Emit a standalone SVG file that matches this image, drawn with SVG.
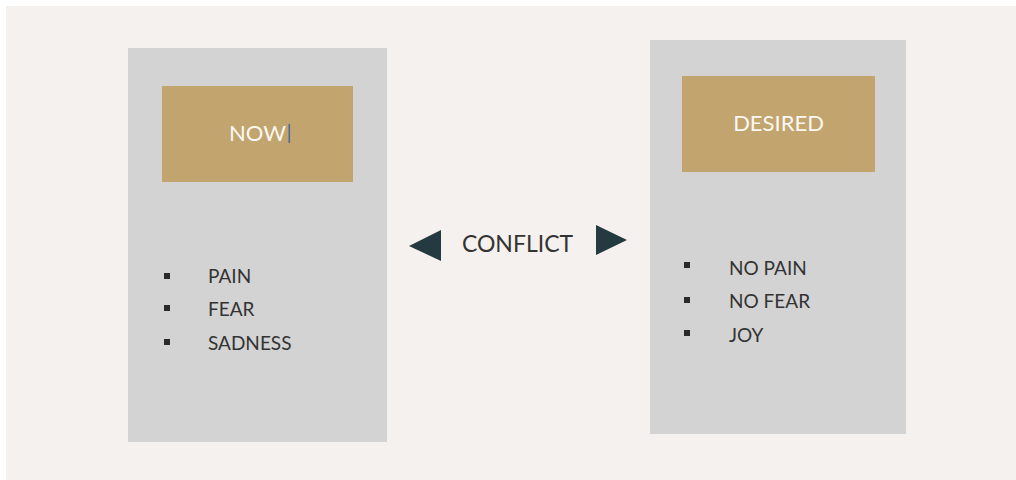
<svg xmlns="http://www.w3.org/2000/svg" width="1016" height="480" viewBox="0 0 1016 480">
  <style>
    .panel { fill: #d3d3d3; }
    .head { fill: #c2a46f; }
    .head-label { font-family: Lato, "Open Sans", sans-serif; font-size: 22px; fill: #fbf8f2; text-anchor: middle; }
    .item { font-family: Lato, "Open Sans", sans-serif; font-size: 19px; fill: #333333; }
    .dot { fill: #2a2a2a; }
    .mid-label { font-family: Lato, "Open Sans", sans-serif; font-size: 23px; fill: #333333; text-anchor: middle; }
    .arrow { fill: #243a40; }
  </style>

  <!-- page and backdrop -->
  <rect x="0" y="0" width="1016" height="480" fill="#ffffff"/>
  <rect x="6" y="6" width="1010" height="474" fill="#f5f1ee"/>

  <!-- current state column -->
  <g id="now">
    <rect class="panel" x="128" y="48" width="259" height="394"/>
    <rect class="head" x="162" y="86" width="191" height="96"/>
    <text class="head-label" x="257.5" y="141">NOW</text>
    <rect x="288.5" y="124" width="1.6" height="19" fill="#4d6a9e"/>
    <rect class="dot" x="164" y="273" width="6" height="6"/>
    <text class="item" x="208" y="283">PAIN</text>
    <rect class="dot" x="164" y="305" width="6" height="6"/>
    <text class="item" x="208" y="316">FEAR</text>
    <rect class="dot" x="164" y="339" width="6" height="6"/>
    <text class="item" x="208" y="350">SADNESS</text>
  </g>

  <!-- target state column -->
  <g id="desired">
    <rect class="panel" x="650" y="40" width="256" height="394"/>
    <rect class="head" x="682" y="76" width="193" height="96"/>
    <text class="head-label" x="778.5" y="131">DESIRED</text>
    <rect class="dot" x="684" y="262" width="6" height="6"/>
    <text class="item" x="729" y="275">NO PAIN</text>
    <rect class="dot" x="684" y="297" width="6" height="6"/>
    <text class="item" x="729" y="308">NO FEAR</text>
    <rect class="dot" x="684" y="330" width="6" height="6"/>
    <text class="item" x="729" y="342">JOY</text>
  </g>

  <!-- tension between the two states -->
  <g id="connectors">
    <polygon class="arrow" points="409,246 441,230 441,261"/>
    <text class="mid-label" x="517.5" y="252">CONFLICT</text>
    <polygon class="arrow" points="627,240 596,225 596,255"/>
  </g>
</svg>
